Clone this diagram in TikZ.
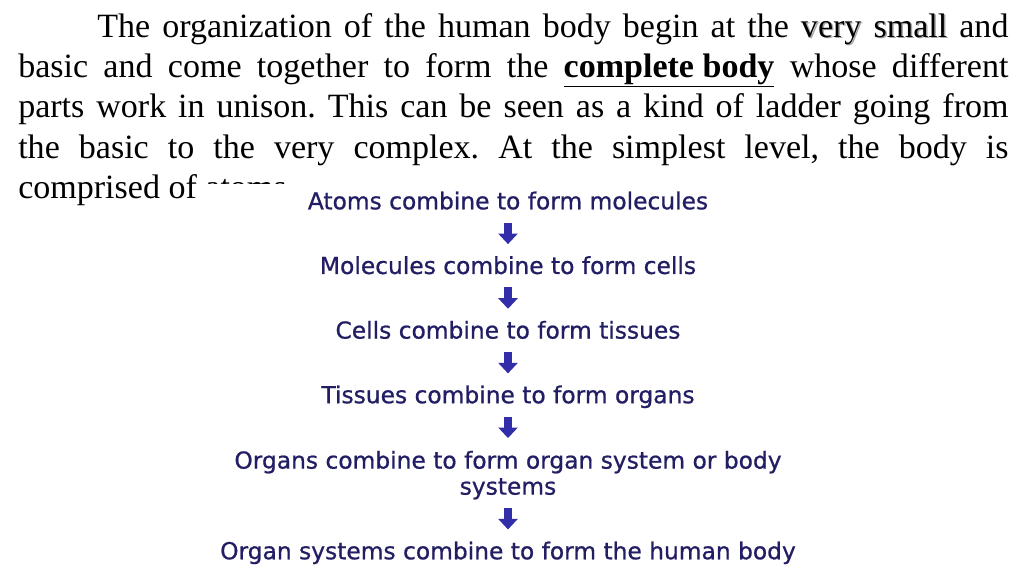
\documentclass[tikz,border=0pt]{standalone}
\usepackage{fontspec}
\setmainfont{Liberation Serif}
\newfontfamily\flowfont[FakeBold=0.8]{DejaVu Sans}
\usetikzlibrary{positioning, arrows.meta}
\definecolor{flowtext}{RGB}{34,30,100}
\definecolor{flowarrow}{RGB}{50,46,170}
\newcommand{\softshadow}[1]{\leavevmode\rlap{\hspace{1.1pt}\raisebox{-1.1pt}{\textcolor{black!35}{#1}}}#1}

\begin{document}
\begin{tikzpicture}[x=0.025cm, y=-0.025cm, node distance=29.87pt,
  intro/.style={anchor=north west, inner sep=0pt, text width=704.2pt, align=justify,
    font=\fontsize{24.2pt}{28.7pt}\selectfont},
  level/.style={inner sep=0pt, text height=12.1pt, text depth=3.6pt, text=flowtext,
    font=\flowfont\fontsize{16.6pt}{18.5pt}\selectfont},
  levelarrow/.style={draw=flowarrow, line width=5pt, -{Triangle[width=13.5pt,length=7.5pt]},
    shorten <=5.7pt, shorten >=8.9pt}]
\useasboundingbox (0,0) rectangle (1024,576);
% text %
\node[intro] (intro) at (18,12.8) {\frenchspacing\hspace*{56.2pt}The organization of the human body begin at the \softshadow{very} \softshadow{small} and\linebreak
basic and come together to form the \underline{\textbf{complete body}} whose different\linebreak
parts work in unison. This can be seen as a kind of ladder going from\linebreak
the basic to the very complex. At the simplest level, the body is\linebreak
comprised of atoms\hspace*{\fill}};
% picture area %
\fill[white] (200,184) rectangle (824,576);
% levels %
\node[level, anchor=base] (atoms) at (508,209.3) {Atoms combine to form molecules};
\node[level, below=of atoms] (molecules) {Molecules combine to form cells};
\node[level, below=of molecules] (cells) {Cells combine to form tissues};
\node[level, below=of cells] (tissues) {Tissues combine to form organs};
\node[level, below=of tissues, align=center, text height=, text depth=] (organs)
  {\rule{0pt}{12.1pt}Organs combine to form organ system or body\\systems\rule[-3.6pt]{0pt}{0pt}};
\node[level, below=of organs] (body) {Organ systems combine to form the human body};
% arrows %
\draw[levelarrow] (atoms) -- (molecules);
\draw[levelarrow] (molecules) -- (cells);
\draw[levelarrow] (cells) -- (tissues);
\draw[levelarrow] (tissues) -- (organs);
\draw[levelarrow] (organs) -- (body);
\end{tikzpicture}
\end{document}
